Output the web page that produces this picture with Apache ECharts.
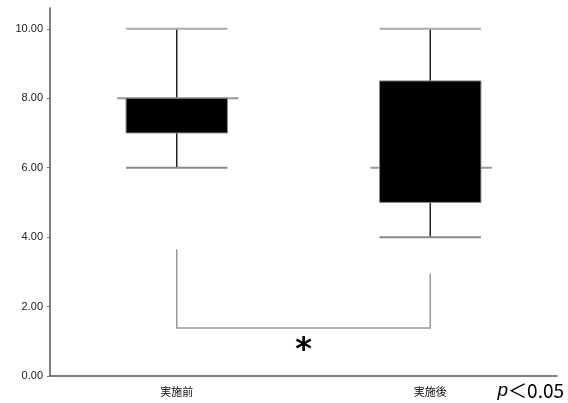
<!DOCTYPE html>
<html>
<head>
<meta charset="utf-8">
<script src="https://cdn.jsdelivr.net/npm/echarts@6/dist/echarts.min.js"></script>
<style>
html,body{margin:0;padding:0;background:#fff;}
#main{width:568px;height:403px;}
</style>
</head>
<body>
<div id="main"></div>
<script>
// 箱ひげ図のデータ [min, Q1, median, Q3, max]
let categories=["実施前","実施後"];
let boxMin=[6,4];
let boxQ1=[7,5];
let boxMedian=[8,6];
let boxQ3=[8,8.5];
let boxMax=[10,10];
let yTicks=[0,2,4,6,8,10];
// 有意差ブラケット
let bracketLeftTop=3.65;
let bracketRightTop=2.95;
let bracketBottom=1.38;
let starY=0.72;

let boxData=[];
for(let i=0;i<categories.length;i++){
    boxData.push([i,boxMin[i],boxQ1[i],boxMedian[i],boxQ3[i],boxMax[i]]);
}

function renderBox(params,api){
    let x=api.value(0);
    let pMin=api.coord([x,api.value(1)]);
    let pQ1=api.coord([x,api.value(2)]);
    let pMed=api.coord([x,api.value(3)]);
    let pQ3=api.coord([x,api.value(4)]);
    let pMax=api.coord([x,api.value(5)]);
    let w=api.size([1,0])[0]*0.4;
    let cx=pMin[0];
    let children=[];
    //ひげ
    children.push({type:'line',shape:{x1:cx,y1:pMax[1],x2:cx,y2:pQ3[1]},style:{stroke:'#222',lineWidth:1.5}});
    children.push({type:'line',shape:{x1:cx,y1:pQ1[1],x2:cx,y2:pMin[1]},style:{stroke:'#222',lineWidth:1.5}});
    children.push({type:'line',shape:{x1:cx-w/2,y1:pMax[1],x2:cx+w/2,y2:pMax[1]},style:{stroke:'#aaa',lineWidth:2}});
    children.push({type:'line',shape:{x1:cx-w/2,y1:pMin[1],x2:cx+w/2,y2:pMin[1]},style:{stroke:'#888',lineWidth:2}});
    //中央値
    children.push({type:'line',shape:{x1:cx-w/2-9,y1:pMed[1],x2:cx+w/2+11,y2:pMed[1]},style:{stroke:'#999',lineWidth:2}});
    //箱
    children.push({type:'rect',shape:{x:cx-w/2,y:pQ3[1],width:w,height:pQ1[1]-pQ3[1]},style:{fill:'#000',stroke:'#888',lineWidth:1}});
    return {type:'group',children:children};
}

function renderBracket(params,api){
    let pl=api.coord([0,bracketLeftTop]);
    let pr=api.coord([1,bracketRightTop]);
    let pb=api.coord([0,bracketBottom]);
    let ps=api.coord([0,starY]);
    let sx=(pl[0]+pr[0])/2;
    return {type:'group',children:[
        {type:'polyline',shape:{points:[[pl[0],pl[1]],[pl[0],pb[1]],[pr[0],pb[1]],[pr[0],pr[1]]]},style:{stroke:'#999',lineWidth:1.5,fill:null}},
        {type:'text',x:sx,y:ps[1],style:{text:'*',fill:'#000',font:'bold 32px "DejaVu Sans"',align:'center',verticalAlign:'middle'}}
    ]};
}

var myChart=echarts.init(document.getElementById('main'));
let option={
    animation:false,
    grid:{left:50,right:11,top:8,bottom:27},
    xAxis:{
        type:'category',
        data:categories,
        boundaryGap:true,
        axisLine:{lineStyle:{color:'#555',width:1.5}},
        axisTick:{show:false},
        axisLabel:{color:'#111',fontSize:11,margin:10,fontFamily:'"Noto Sans CJK JP"'}
    },
    yAxis:{
        type:'value',
        min:0,
        max:10.6,
        interval:2,
        splitLine:{show:false},
        axisLine:{show:true,lineStyle:{color:'#555',width:1.5}},
        axisTick:{show:true,length:3,lineStyle:{color:'#777'}},
        axisLabel:{
            color:'#222',fontSize:11,margin:7,fontFamily:'"Liberation Sans"',
            showMaxLabel:false,
            formatter:function(v){return yTicks.indexOf(v)>=0?v.toFixed(2):'';}
        }
    },
    series:[
        {type:'custom',renderItem:renderBox,data:boxData,encode:{x:0,y:[1,2,3,4,5]}},
        {type:'custom',renderItem:renderBracket,data:[[0,bracketBottom]],encode:{x:0,y:1}}
    ],
    graphic:[{
        type:'text',right:4,bottom:3,
        style:{
            text:'{i|p}{n|＜0.05}',
            rich:{
                i:{fontStyle:'italic',fontSize:19,fontFamily:'"Liberation Sans"',fill:'#000'},
                n:{fontSize:19,fontFamily:'"Noto Sans CJK JP"',fill:'#000'}
            }
        }
    }]
};
myChart.setOption(option);
</script>
</body>
</html>
